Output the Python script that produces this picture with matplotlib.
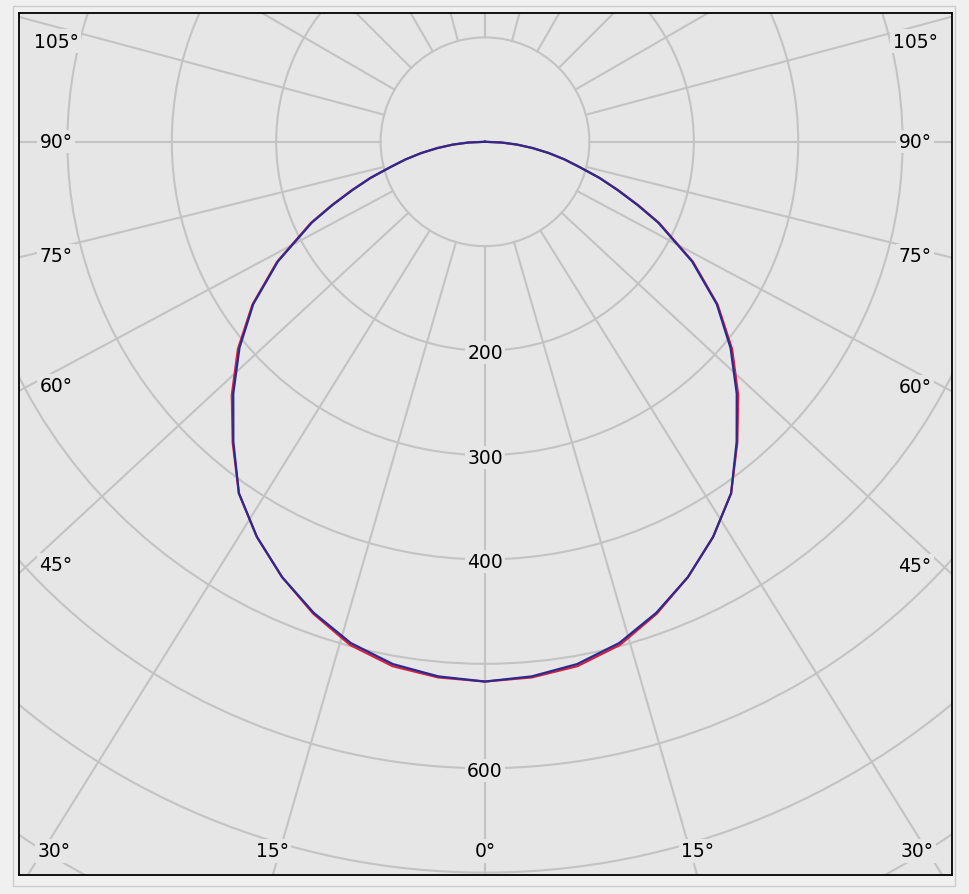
import numpy as np
import matplotlib.pyplot as plt
from matplotlib.patches import Circle, Rectangle

# luminous intensity (cd) vs gamma angle, mirrored left/right
gamma = [0, 5, 10, 15, 20, 25, 30, 35, 40, 45, 50, 55, 60, 65, 67.5, 70, 72.5, 75, 77.5, 80, 82.5, 85, 87.5, 90]
c0_c180 = [517, 515, 510, 499, 481, 460, 437, 411, 376, 343, 309, 272, 230, 184, 159, 136, 115, 94, 78, 62, 46, 31, 16, 0]
c90_c270 = [517, 514, 508, 497, 480, 460, 437, 411, 375, 341, 307, 271, 229, 183, 158, 135, 115, 94, 78, 62, 46, 31, 16, 0]

ring_values = [100, 200, 300, 400, 500, 600, 700, 800]
ring_labels = [200, 300, 400, 600]
spoke_angles = list(range(-180, 181, 15))
side_labels = [45, 60, 75, 90, 105]
bottom_labels = [0, 15, 30]

BG = '#e6e6e6'
GRID = '#c3c3c3'
W, H = 969, 895
left_px, right_px, top_px, bot_px = 19, 952, 14, 876
cx, cy = 485, 142.8
scale = 1.044  # px per cd

fig = plt.figure(figsize=(W / 100, H / 100), dpi=100, facecolor='#f0f0f0')
fig.patches.append(Rectangle((13 / W, 1 - 887 / H), (955 - 13) / W, (887 - 7) / H,
                             transform=fig.transFigure, fill=False,
                             edgecolor='#cccccc', linewidth=1))
ax = fig.add_axes([left_px / W, 1 - bot_px / H, (right_px - left_px) / W, (bot_px - top_px) / H])
ax.set_facecolor(BG)
x0, x1 = (left_px - cx) / scale, (right_px - cx) / scale
y0, y1 = -(bot_px - cy) / scale, (cy - top_px) / scale
ax.set_xlim(x0, x1)
ax.set_ylim(y0, y1)
ax.set_xticks([])
ax.set_yticks([])
for s in ax.spines.values():
    s.set_color('black')
    s.set_linewidth(1.3)


def spoke_dir(a):
    t = np.radians(a)
    dx, dy = np.sin(t), -np.cos(t)
    if abs(a) < 90:
        dy = dy / 1.08
    n = np.hypot(dx, dy)
    return dx / n, dy / n


def frame_hit(a):
    dx, dy = spoke_dir(a)
    ts = []
    if dx > 1e-9:
        ts.append(x1 / dx)
    if dx < -1e-9:
        ts.append(x0 / dx)
    if dy > 1e-9:
        ts.append(y1 / dy)
    if dy < -1e-9:
        ts.append(y0 / dy)
    t = min(ts)
    return dx * t, dy * t


# rings
for r in ring_values:
    ax.add_patch(Circle((0, 0), r, fill=False, edgecolor=GRID, linewidth=1.5, zorder=1))

# spokes, starting at the 100 ring
for a in spoke_angles:
    dx, dy = spoke_dir(a)
    ax.plot([100 * dx, 1200 * dx], [100 * dy, 1200 * dy], color=GRID, linewidth=1.5, zorder=1)

box = dict(facecolor=BG, edgecolor='none', pad=1.5)
pad_x = 37 / scale

for a in side_labels:
    for sign in (-1, 1):
        hx, hy = frame_hit(sign * a)
        hy = min(hy * 0.98, y1 - 28 / scale)
        hx = x0 + pad_x if sign < 0 else x1 - pad_x
        ax.text(hx, hy, f'{a}°', ha='center', va='center', fontsize=13.5, bbox=box, zorder=3)

for a in bottom_labels:
    for sign in ((-1, 1) if a else (1,)):
        hx, hy = frame_hit(sign * a)
        hx = min(max(hx, x0 + 35 / scale), x1 - 35 / scale)
        ax.text(hx, y0 + 24 / scale, f'{a}°', ha='center', va='center', fontsize=13.5, bbox=box, zorder=3)

for r in ring_labels:
    ax.text(0, -r - 2, str(r), ha='center', va='center', fontsize=13.5, bbox=box, zorder=3)

# intensity curves
g = np.radians(np.concatenate([-np.array(gamma[::-1]), np.array(gamma[1:])]))
for vals, col in ((c0_c180, '#d8203c'), (c90_c270, '#2a2a90')):
    v = np.array(vals, dtype=float)
    r = np.concatenate([v[::-1], v[1:]])
    ax.plot(r * np.sin(g), -r * np.cos(g), color=col, linewidth=1.6, zorder=4)

fig.savefig('out.png', dpi=100, facecolor=fig.get_facecolor())
